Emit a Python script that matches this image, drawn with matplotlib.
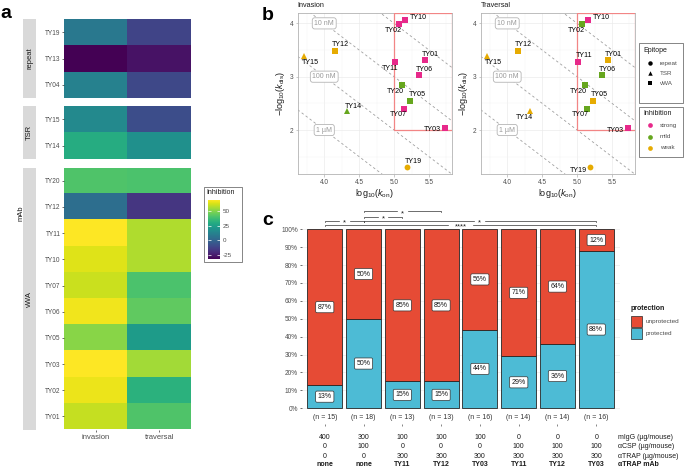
import numpy as np
import matplotlib
matplotlib.use("Agg")
import matplotlib.pyplot as plt
from matplotlib import transforms
from matplotlib.patches import Rectangle
from matplotlib.cm import ScalarMappable
from matplotlib.colors import Normalize

plt.rcParams['font.family'] = ['Liberation Sans', 'DejaVu Sans']
plt.rcParams['mathtext.fontset'] = 'custom'
plt.rcParams['mathtext.rm'] = 'Liberation Sans'
plt.rcParams['mathtext.it'] = 'Liberation Sans:italic'
plt.rcParams['mathtext.bf'] = 'Liberation Sans:bold'
plt.rcParams['axes.unicode_minus'] = False

# ---------------- panel a data ----------------
assay_labels = ["invasion", "traversal"]
repeat_rows = ["TY19", "TY13", "TY04"]
repeat_invasion = [8, -33, 12]
repeat_traversal = [-12, -28, -11]
tsr_rows = ["TY15", "TY14"]
tsr_invasion = [15, 30]
tsr_traversal = [-9, 18]
vwa_rows = ["TY20", "TY12", "TY11", "TY10", "TY07", "TY06", "TY05", "TY03", "TY02", "TY01"]
vwa_invasion = [41, 4, 69, 64, 61, 67, 51, 69, 66, 60]
vwa_traversal = [40, -17, 57, 57, 40, 44, 23, 55, 32, 41]
cbar_ticks = [-25, 0, 25, 50]

# ---------------- panel b data ----------------
mab_names = ["TY01", "TY02", "TY03", "TY05", "TY06", "TY07", "TY10",
             "TY11", "TY12", "TY14", "TY15", "TY19", "TY20"]
log_kon = [5.44, 5.07, 5.73, 5.23, 5.35, 5.14, 5.16, 5.02, 4.15, 4.32, 3.71, 5.18, 5.12]
neg_log_kdis = [3.31, 3.99, 2.03, 2.55, 3.03, 2.40, 4.06, 3.28, 3.49, 2.36, 3.39, 1.30, 2.84]
epitope = ["vWA", "vWA", "vWA", "vWA", "vWA", "vWA", "vWA", "vWA", "vWA", "TSR", "TSR", "repeat", "vWA"]
inhibition_invasion = ["strong", "strong", "strong", "mild", "strong", "strong", "strong",
                       "strong", "weak", "mild", "weak", "weak", "mild"]
inhibition_traversal = ["weak", "mild", "strong", "weak", "mild", "mild", "strong",
                        "strong", "weak", "weak", "weak", "weak", "mild"]
kd_levels = [9, 8, 7, 6]            # -log10(KD)
kd_label_levels = [8, 7, 6]
kd_label_text = ["10 nM", "100 nM", "1 µM"]
epitope_levels = ["repeat", "TSR", "vWA"]
inhibition_levels = ["strong", "mild", "weak"]

# ---------------- panel c data ----------------
group_n = [15, 18, 13, 13, 16, 14, 14, 16]
protected_pct = [13, 50, 15, 15, 44, 29, 36, 88]
unprotected_pct = [87, 50, 85, 85, 56, 71, 64, 12]
migg = ["400", "300", "100", "100", "100", "0", "0", "0"]
acsp = ["0", "100", "0", "0", "0", "100", "100", "100"]
atrap = ["0", "0", "300", "300", "300", "300", "300", "300"]
atrap_mab = ["none", "none", "TY11", "TY12", "TY03", "TY11", "TY12", "TY03"]
row_titles = ["mIgG (µg/mouse)", "αCSP (µg/mouse)", "αTRAP (µg/mouse)", "αTRAP mAb"]
comparisons = [(2, 4, "*"), (2, 3, "*"), (1, 2, "*"), (2, 8, "*"), (1, 8, "****")]

# ---------------- layout ----------------
W, H = 685, 468
fig = plt.figure(figsize=(W / 100, H / 100), dpi=100)


def px_axes(l, t, r, b):
    return fig.add_axes([l / W, 1 - b / H, (r - l) / W, (b - t) / H])


ov = px_axes(0, 0, W, H)
ov.set_xlim(0, W)
ov.set_ylim(H, 0)
ov.axis('off')

GRAY_TXT = '#4d4d4d'

# ================= panel a =================
all_vals = repeat_invasion + repeat_traversal + tsr_invasion + tsr_traversal + vwa_invasion + vwa_traversal
vmin, vmax = min(all_vals), max(all_vals)
facets = [
    (repeat_rows, repeat_invasion, repeat_traversal, "repeat", 19.3, 97.7),
    (tsr_rows, tsr_invasion, tsr_traversal, "TSR", 106.0, 159.0),
    (vwa_rows, vwa_invasion, vwa_traversal, "vWA", 167.7, 429.5),
]
for k, (rows, inv, trav, name, t, b) in enumerate(facets):
    ax = px_axes(64, t, 191, b)
    M = np.column_stack([inv, trav])
    ax.imshow(M, cmap='viridis', vmin=vmin, vmax=vmax, aspect='auto', interpolation='nearest')
    ax.set_yticks(range(len(rows)))
    ax.set_yticklabels(rows)
    ax.tick_params(axis='y', length=1.5, width=0.5, color='#333333', labelsize=4.7,
                   pad=1, labelcolor=GRAY_TXT)
    for s in ax.spines.values():
        s.set_visible(False)
    if k == len(facets) - 1:
        ax.set_xticks([0, 1])
        ax.set_xticklabels(assay_labels)
        ax.tick_params(axis='x', length=1.5, width=0.5, color='#333333', labelsize=5.5,
                       pad=1.5, labelcolor=GRAY_TXT)
    else:
        ax.set_xticks([])
    ov.add_patch(Rectangle((22.7, t), 13.3, b - t, fc='#d9d9d9', ec='none'))
    ov.text(29.6, (t + b) / 2, name, rotation=90, ha='center', va='center',
            fontsize=5.5, color='#1a1a1a')
ov.text(21, 213, "mAb", rotation=90, ha='center', va='center', fontsize=5.5, color='#1a1a1a')

# colorbar
cax = px_axes(208.3, 200, 220, 259.3)
sm = ScalarMappable(norm=Normalize(vmin, vmax), cmap='viridis')
cb = fig.colorbar(sm, cax=cax, ticks=cbar_ticks)
cb.outline.set_visible(False)
cax.tick_params(left=True, right=True, labelleft=False, labelright=True, direction='in',
                length=2, width=0.5, color='white', labelsize=4.5, labelcolor=GRAY_TXT, pad=2)
ov.add_patch(Rectangle((204.3, 186.7), 38, 75.6, fill=False, ec='#555555', lw=0.5))
ov.text(206.3, 192.5, "Inhibition", fontsize=5, va='center', ha='left', color='#1a1a1a')

# ================= panel b =================
xlim_b = (3.62, 5.825)
ylim_b = (1.175, 4.2)
inhib_colors = {"strong": "#E7298A", "mild": "#66A61E", "weak": "#E6AB02"}
shape_markers = {"repeat": "o", "TSR": "^", "vWA": "s"}
shape_sizes = {"repeat": 4.2, "TSR": 4.6, "vWA": 4.0}

# label offsets in pixels (dx right, dy down) -- layout only
offs_inv = {"TY10": (12.7, -2.7), "TY02": (-6, 6.3), "TY12": (6, -6), "TY15": (6.3, 6.7),
            "TY01": (6, -6), "TY11": (-5.7, 6.7), "TY06": (6, -5.7), "TY20": (-7, 6.7),
            "TY05": (7.7, -5.7), "TY07": (-5.3, 6.3), "TY14": (6.3, -4.7), "TY03": (-12.3, 1),
            "TY19": (6.7, -5.7)}
offs_trav = {"TY10": (12.7, -2.3), "TY02": (-6, 6.7), "TY12": (6, -5.7), "TY15": (6, 6.7),
             "TY11": (5.3, -6), "TY01": (5.3, -6), "TY06": (6, -6), "TY20": (-7.3, 6.7),
             "TY05": (6.7, -6), "TY07": (-6.3, 6), "TY14": (-5.7, 6.3), "TY03": (-12.3, 2),
             "TY19": (-11.7, 2.7)}

panels_b = [("Invasion", inhibition_invasion, offs_inv, 297.7, 451.7),
            ("Traversal", inhibition_traversal, offs_trav, 480.7, 634.7)]
for title, inhib, offs, l, r in panels_b:
    ax = px_axes(l, 12.7, r, 174)
    ax.set_xlim(*xlim_b)
    ax.set_ylim(*ylim_b)
    ax.set_xticks([4.0, 4.5, 5.0, 5.5])
    ax.set_yticks([2, 3, 4])
    ax.set_xticks([3.75, 4.25, 4.75, 5.25, 5.75], minor=True)
    ax.set_yticks([1.5, 2.5, 3.5], minor=True)
    ax.grid(which='major', color='#ebebeb', lw=0.5)
    ax.grid(which='minor', color='#f3f3f3', lw=0.35)
    ax.set_axisbelow(True)
    for s in ax.spines.values():
        s.set_color('#b3b3b3')
        s.set_linewidth(0.6)
    ax.tick_params(which='major', length=1.8, width=0.5, color='#b3b3b3', labelsize=4.7,
                   labelcolor=GRAY_TXT, pad=1.5)
    ax.tick_params(which='minor', length=0)
    xs = np.array(xlim_b)
    for c in kd_levels:
        ax.plot(xs, c - xs, ls=(0, (3, 3)), color='#a0a0a0', lw=0.6, zorder=1)
    for c, lab in zip(kd_label_levels, kd_label_text):
        ax.text(4.0, c - 4.0, lab, ha='center', va='center', fontsize=5, color='#9a9a9a', zorder=2,
                bbox=dict(boxstyle='round,pad=0.3,rounding_size=0.35', fc='white', ec='#b5b5b5', lw=0.6))
    ax.add_patch(Rectangle((5.0, 2.0), xlim_b[1] - 5.0, ylim_b[1] - 2.0, fill=False,
                           ec='#F28585', lw=0.9, zorder=3))
    for i, nm in enumerate(mab_names):
        ax.plot(log_kon[i], neg_log_kdis[i], marker=shape_markers[epitope[i]],
                ms=shape_sizes[epitope[i]], color=inhib_colors[inhib[i]], ls='none', zorder=4,
                markeredgewidth=0)
        dx, dy = offs[nm]
        ax.annotate(nm, (log_kon[i], neg_log_kdis[i]), xytext=(dx * 0.72, -dy * 0.72),
                    textcoords='offset points', ha='center', va='center', fontsize=5.1,
                    color='black', zorder=5)
    ax.set_xlabel(r'$\mathrm{log}_{10}(k_{\mathrm{on}})$', fontsize=6.5, labelpad=1.2, color='#1a1a1a')
    ax.set_ylabel(r'$-\mathrm{log}_{10}(k_{\mathrm{dis}})$', fontsize=6.5, labelpad=2, color='#1a1a1a')
    ov.text(l, 5.5, title, fontsize=5.2, va='center', ha='left', color='#1a1a1a')

# legends for panel b
ov.add_patch(Rectangle((639.3, 43.3), 43.4, 59.7, fill=False, ec='#555555', lw=0.5))
ov.text(643, 50.5, "Epitope", fontsize=5, va='center', ha='left', color='#1a1a1a')
for lev, y in zip(epitope_levels, [63.3, 73.3, 83.3]):
    ov.plot(650.5, y, marker=shape_markers[lev], ms=3.2, color='black', ls='none', markeredgewidth=0)
    ov.text(660, y, lev, fontsize=4.5, va='center', ha='left', color=GRAY_TXT)
ov.add_patch(Rectangle((639.3, 106.7), 43.4, 50, fill=False, ec='#555555', lw=0.5))
ov.text(643, 113.5, "Inhibition", fontsize=5, va='center', ha='left', color='#1a1a1a')
for lev, y in zip(inhibition_levels, [125, 136.5, 147.5]):
    ov.plot(650.5, y, marker='o', ms=3.4, color=inhib_colors[lev], ls='none', markeredgewidth=0)
    ov.text(660, y, lev, fontsize=4.5, va='center', ha='left', color=GRAY_TXT)

# ================= panel c =================
axc = px_axes(301.5, 228.4, 619.5, 424.4)
axc.set_xlim(0.4, 8.6)
axc.set_ylim(-0.09, 1.005)
xpos = np.arange(1, len(group_n) + 1)
prot = np.array(protected_pct) / 100
unprot = np.array(unprotected_pct) / 100
axc.bar(xpos, prot, width=0.9, color='#4DBBD5', edgecolor='#262626', lw=0.6, zorder=2)
axc.bar(xpos, unprot, bottom=prot, width=0.9, color='#E64B35', edgecolor='#262626', lw=0.6, zorder=2)
lab_box = dict(boxstyle='round,pad=0.3,rounding_size=0.2', fc='white', ec='#333333', lw=0.5)
for xi, p, u in zip(xpos, protected_pct, unprotected_pct):
    axc.text(xi, p / 200, f"{p}%", ha='center', va='center', fontsize=5, bbox=lab_box, zorder=4, color='#1a1a1a')
    axc.text(xi, p / 100 + u / 200, f"{u}%", ha='center', va='center', fontsize=5, bbox=lab_box, zorder=4, color='#1a1a1a')
yt = np.arange(0, 101, 10)
axc.set_yticks(yt / 100)
axc.set_yticklabels([f"{v}%" for v in yt])
axc.yaxis.grid(True, color='#ebebeb', lw=0.5)
axc.set_axisbelow(True)
axc.set_xticks(xpos)
axc.set_xticklabels([""] * len(xpos))
for s in axc.spines.values():
    s.set_visible(False)
axc.tick_params(axis='y', length=1.5, width=0.5, color='#333333', labelsize=4.7,
                labelcolor=GRAY_TXT, pad=1)
axc.tick_params(axis='x', length=1.5, width=0.5, color='#555555')
for xi, n in zip(xpos, group_n):
    axc.text(xi, -0.05, f"(n = {n})", ha='center', va='center', fontsize=5, color='#333333')

blend = transforms.blended_transform_factory(axc.transData, ov.transData)
row_y = [437.3, 446.7, 456.0, 465.0]
for k, (vals, y) in enumerate(zip([migg, acsp, atrap, atrap_mab], row_y)):
    bold = (k == 3)
    for xi, v in zip(xpos, vals):
        ov.text(xi, y, v, transform=blend, ha='center', va='center', fontsize=5,
                fontweight='bold' if bold else 'normal', color='#1a1a1a')
    ov.text(617.7, y, row_titles[k], ha='left', va='center', fontsize=5,
            fontweight='bold' if bold else 'normal', color='#1a1a1a')

# significance brackets
bracket_y = [1.102, 1.071, 1.048, 1.048, 1.024]
px_x = 1 / 38.78
for (a, b, sym), yl in zip(comparisons, bracket_y):
    mid = (a + b) / 2
    gap = (len(sym) * 2.4 + 3.0) * px_x
    tick = 0.008
    axc.plot([a, a, mid - gap], [yl - tick, yl, yl], color='#333333', lw=0.5, clip_on=False)
    axc.plot([mid + gap, b, b], [yl, yl, yl - tick], color='#333333', lw=0.5, clip_on=False)
    axc.annotate(sym, (mid, yl), xytext=(0, -2.8), textcoords='offset points', ha='center',
                 va='baseline', fontsize=5.5, color='#1a1a1a', annotation_clip=False)

# legend panel c
ov.text(631, 309, "protection", fontsize=5, fontweight='bold', va='center', ha='left', color='#1a1a1a')
ov.add_patch(Rectangle((631, 316.2), 10.8, 10.8, fc='#E64B35', ec='#262626', lw=0.5))
ov.add_patch(Rectangle((631, 327.8), 10.8, 10.8, fc='#4DBBD5', ec='#262626', lw=0.5))
ov.text(645.5, 321.6, "unprotected", fontsize=4.6, va='center', ha='left', color=GRAY_TXT)
ov.text(645.5, 333.2, "protected", fontsize=4.6, va='center', ha='left', color=GRAY_TXT)

# panel letters
ov.text(0, 18, "a", fontsize=14, fontweight='bold', ha='left', va='baseline')
ov.text(262, 20, "b", fontsize=14, fontweight='bold', ha='left', va='baseline')
ov.text(262, 225, "c", fontsize=14, fontweight='bold', ha='left', va='baseline')

fig.savefig("out.png", dpi=100)
